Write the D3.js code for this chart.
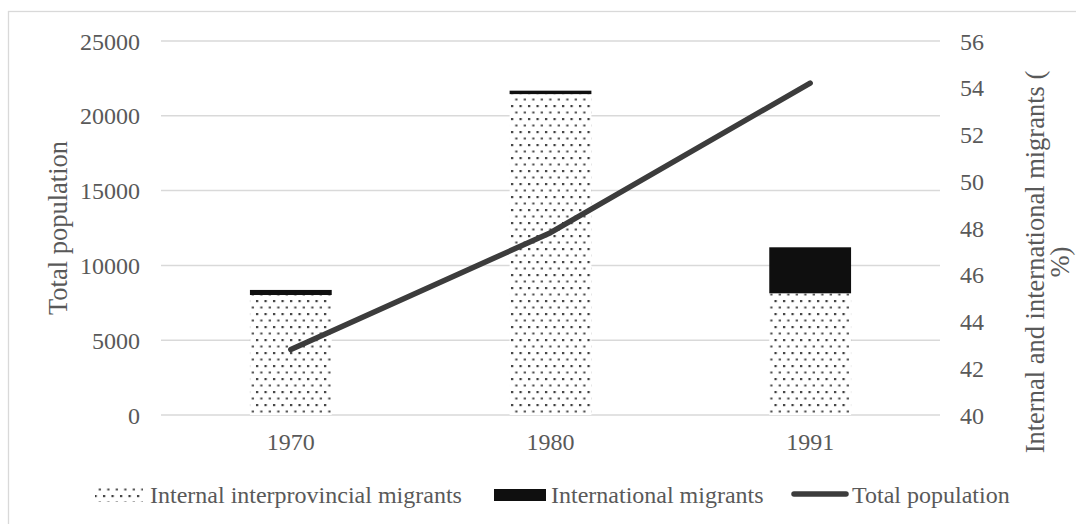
<!DOCTYPE html>
<html>
<head>
<meta charset="utf-8">
<script src="https://cdn.jsdelivr.net/npm/d3@7/dist/d3.min.js"></script>
<style>
  html, body { margin: 0; padding: 0; background: #fff; }
  svg { display: block; font-family: "Liberation Serif", "Times New Roman", serif; }
</style>
</head>
<body>
<svg id="chart" width="1076" height="524"></svg>
<script>
// Census years
const years = ["1970", "1980", "1991"];
// Stacked bars (left axis)
const internalMigrants = [8020, 21450, 8135];
const internationalMigrants = [340, 230, 3075];
// Line (right axis)
const totalPopulation = [42.8, 47.8, 54.2];
// Axis ticks
const leftTicks = [0, 5000, 10000, 15000, 20000, 25000];
const rightTicks = [40, 42, 44, 46, 48, 50, 52, 54, 56];

const svg = d3.select("#chart");
const textColor = "#595959";
const gridColor = "#d9d9d9";
const fontSize = 24;
const titleSize = 26.5;

const plot = { left: 161, right: 940, top: 41, bottom: 415 };

const x = d3.scaleBand().domain(years).range([plot.left, plot.right]).padding(0);
const yLeft = d3.scaleLinear().domain([0, 25000]).range([plot.bottom, plot.top]);
const yRight = d3.scaleLinear().domain([40, 56]).range([plot.bottom, plot.top]);
const barWidth = x.bandwidth() * 0.315;

// Dotted fill
const defs = svg.append("defs");
const pat = defs.append("pattern")
  .attr("id", "dots")
  .attr("patternUnits", "userSpaceOnUse")
  .attr("width", 8.5).attr("height", 13);
pat.append("rect").attr("width", 8.5).attr("height", 13).attr("fill", "#fff");
pat.append("rect").attr("x", 1).attr("y", 1).attr("width", 2.2).attr("height", 2.2).attr("fill", "#3a3a3a");
pat.append("rect").attr("x", 5.25).attr("y", 7.5).attr("width", 2.2).attr("height", 2).attr("fill", "#4a4a4a");

// Outer frame
svg.append("rect")
  .attr("x", 8.5).attr("y", 11.5).attr("width", 1100).attr("height", 600)
  .attr("fill", "none").attr("stroke", gridColor).attr("stroke-width", 1.3);

// Gridlines + left axis
const leftAxis = d3.axisLeft(yLeft).tickValues(leftTicks).tickFormat(d3.format("d")).tickSize(0).tickPadding(0);
const gL = svg.append("g").attr("transform", `translate(${plot.left},0)`).call(leftAxis);
gL.select(".domain").remove();
gL.selectAll("text")
  .attr("x", -21).attr("dy", "0.34em")
  .attr("fill", textColor).attr("font-size", fontSize)
  .attr("font-family", "Liberation Serif, serif");

svg.append("g").selectAll("line").data(leftTicks).join("line")
  .attr("x1", plot.left).attr("x2", plot.right)
  .attr("y1", d => yLeft(d)).attr("y2", d => yLeft(d))
  .attr("stroke", gridColor).attr("stroke-width", 1.5);

// Right axis
const rightAxis = d3.axisRight(yRight).tickValues(rightTicks).tickSize(0).tickPadding(0);
const gR = svg.append("g").attr("transform", `translate(${plot.right},0)`).call(rightAxis);
gR.select(".domain").remove();
gR.selectAll("text")
  .attr("x", 20).attr("dy", "0.34em")
  .attr("fill", textColor).attr("font-size", fontSize)
  .attr("font-family", "Liberation Serif, serif");

// Bottom axis labels
const xAxis = d3.axisBottom(x).tickSize(0).tickPadding(0);
const gX = svg.append("g").attr("transform", `translate(0,${plot.bottom})`).call(xAxis);
gX.select(".domain").remove();
gX.selectAll("text")
  .attr("y", 35).attr("dy", 0)
  .attr("fill", textColor).attr("font-size", fontSize)
  .attr("font-family", "Liberation Serif, serif");

// Stacked bars
const bars = svg.append("g");
bars.selectAll("rect.internal").data(years).join("rect")
  .attr("class", "internal")
  .attr("x", d => x(d) + (x.bandwidth() - barWidth) / 2)
  .attr("width", barWidth)
  .attr("y", (d, i) => yLeft(internalMigrants[i]))
  .attr("height", (d, i) => yLeft(0) - yLeft(internalMigrants[i]))
  .attr("fill", "url(#dots)");
bars.selectAll("rect.intl").data(years).join("rect")
  .attr("class", "intl")
  .attr("x", d => x(d) + (x.bandwidth() - barWidth) / 2)
  .attr("width", barWidth)
  .attr("y", (d, i) => yLeft(internalMigrants[i] + internationalMigrants[i]))
  .attr("height", (d, i) => yLeft(internalMigrants[i]) - yLeft(internalMigrants[i] + internationalMigrants[i]))
  .attr("fill", "#0f0f0f");

// Total population line
const line = d3.line()
  .x((d, i) => x(years[i]) + x.bandwidth() / 2)
  .y(d => yRight(d));
svg.append("path")
  .datum(totalPopulation)
  .attr("d", line)
  .attr("fill", "none")
  .attr("stroke", "#3c3c3c")
  .attr("stroke-width", 5.5)
  .attr("stroke-linecap", "round")
  .attr("stroke-linejoin", "round");

// Axis titles
svg.append("text")
  .attr("transform", `translate(67,${(plot.top + plot.bottom) / 2}) rotate(-90)`)
  .attr("text-anchor", "middle")
  .attr("fill", textColor).attr("font-size", titleSize)
  .text("Total population");

const rt = svg.append("text")
  .attr("transform", `translate(1044,262) rotate(-90)`)
  .attr("text-anchor", "middle")
  .attr("fill", textColor).attr("font-size", titleSize);
rt.append("tspan").attr("x", 0).attr("dy", 0).text("Internal and international migrants (");
rt.append("tspan").attr("x", 0).attr("dy", 25).text("%)");

// Legend
const legend = svg.append("g");
legend.append("rect").attr("x", 95).attr("y", 488).attr("width", 48).attr("height", 14).attr("fill", "url(#dots)");
legend.append("text").attr("x", 150).attr("y", 503).attr("fill", textColor).attr("font-size", fontSize)
  .text("Internal interprovincial migrants");
legend.append("rect").attr("x", 494).attr("y", 489).attr("width", 52).attr("height", 12).attr("fill", "#0f0f0f");
legend.append("text").attr("x", 551).attr("y", 503).attr("fill", textColor).attr("font-size", fontSize)
  .text("International migrants");
legend.append("line").attr("x1", 794).attr("x2", 846).attr("y1", 494).attr("y2", 494)
  .attr("stroke", "#3c3c3c").attr("stroke-width", 5.5).attr("stroke-linecap", "round");
legend.append("text").attr("x", 852).attr("y", 503).attr("fill", textColor).attr("font-size", fontSize)
  .text("Total population");
</script>
</body>
</html>
